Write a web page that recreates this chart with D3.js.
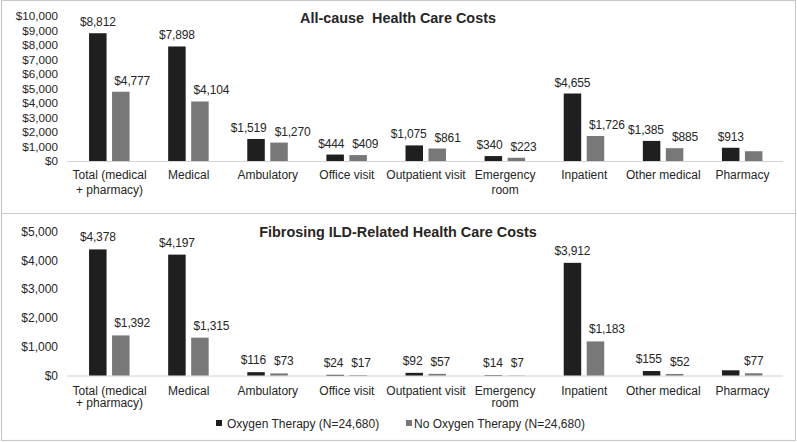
<!DOCTYPE html>
<html>
<head>
<meta charset="utf-8">
<script src="https://cdn.jsdelivr.net/npm/d3@7"></script>
<style>
  html, body { margin: 0; padding: 0; background: #fff; }
  svg { display: block; font-family: "Liberation Sans", Arial, sans-serif; }
</style>
</head>
<body>
<svg id="chart" width="797" height="442"></svg>
<script>
// ---------------- data ----------------
const categories = [
  "Total (medical\n+ pharmacy)", "Medical", "Ambulatory", "Office visit",
  "Outpatient visit", "Emergency\nroom", "Inpatient", "Other medical", "Pharmacy"
];
const seriesNames = ["Oxygen Therapy (N=24,680)", "No Oxygen Therapy (N=24,680)"];

const allCauseTitle = "All-cause  Health Care Costs";
const allCauseOxygen   = [8812, 7898, 1519, 444, 1075, 340, 4655, 1385, 913];
const allCauseNoOxygen = [4777, 4104, 1270, 409, 861, 223, 1726, 885, 673];
const allCauseTicks = [0, 1000, 2000, 3000, 4000, 5000, 6000, 7000, 8000, 9000, 10000];
const allCauseUnlabeled = [[1, "Pharmacy"]];   // [series index, category]

const ildTitle = "Fibrosing ILD-Related Health Care Costs";
const ildOxygen   = [4378, 4197, 116, 24, 92, 14, 3912, 155, 181];
const ildNoOxygen = [1392, 1315, 73, 17, 57, 7, 1183, 52, 77];
const ildTicks = [0, 1000, 2000, 3000, 4000, 5000];
const ildUnlabeled = [[0, "Pharmacy"]];

// ---------------- styles ----------------
const colors = ["#1f1f1f", "#787878"];
const textColor = "#262626";
const fmt = d => "$" + d3.format(",")(d);

const svg = d3.select("#chart");

// frame
svg.append("rect").attr("x", 1.5).attr("y", 0.5).attr("width", 794).attr("height", 440)
  .attr("fill", "none").attr("stroke", "#c9c9c9").attr("stroke-width", 1.2);
svg.append("line").attr("x1", 1.5).attr("x2", 795.5).attr("y1", 213.5).attr("y2", 213.5)
  .attr("stroke", "#c9c9c9").attr("stroke-width", 1.2);

const x0 = d3.scaleBand().domain(categories).range([70, 782]);
const x1 = d3.scaleBand().domain([0, 1]).range([-20.5, 20]).paddingInner(0.239);

// text measurement helper
const measurer = svg.append("text").attr("font-size", "12px").attr("letter-spacing", "-0.15px")
  .attr("visibility", "hidden");
function textW(s) { measurer.text(s); return measurer.node().getComputedTextLength(); }

function drawPanel(cfg) {
  const g = svg.append("g");
  const y = d3.scaleLinear().domain([0, cfg.max]).range([cfg.y0, cfg.yTop]);

  // title
  g.append("text").attr("x", 398).attr("y", cfg.titleY)
    .attr("text-anchor", "middle").attr("font-weight", "bold")
    .attr("font-size", "14.4px").attr("fill", textColor)
    .style("white-space", "pre")
    .text(cfg.title);

  // y axis
  const ax = g.append("g").attr("transform", `translate(60,0)`)
    .call(d3.axisLeft(y).tickValues(cfg.ticks).tickFormat(fmt).tickSize(0).tickPadding(2));
  ax.select(".domain").remove();
  ax.selectAll("text").attr("font-size", cfg.tickFont).attr("fill", textColor)
    .attr("font-family", "Liberation Sans, Arial, sans-serif");

  // baseline
  g.append("line").attr("x1", 67).attr("x2", 783)
    .attr("y1", y(0) + 0.5).attr("y2", y(0) + 0.5)
    .attr("stroke", "#d4d4d4").attr("stroke-width", 1.2);

  const series = [cfg.oxygen, cfg.noOxygen];
  const rows = [];
  series.forEach((vals, s) => vals.forEach((v, i) => rows.push({ s, cat: categories[i], v })));

  g.selectAll("rect.bar").data(rows).join("rect").attr("class", "bar")
    .attr("x", d => x0(d.cat) + x0.bandwidth() / 2 + x1(d.s))
    .attr("width", x1.bandwidth())
    .attr("y", d => y(d.v))
    .attr("height", d => y(0) - y(d.v))
    .attr("fill", d => colors[d.s]);

  // value labels with simple collision avoidance between the pair of a category
  const hidden = new Set(cfg.unlabeled.map(u => u[0] + "|" + u[1]));
  const labels = rows.filter(d => !hidden.has(d.s + "|" + d.cat)).map(d => ({
    ...d,
    text: fmt(d.v),
    w: textW(fmt(d.v)),
    cx: x0(d.cat) + x0.bandwidth() / 2 + x1(d.s) + x1.bandwidth() / 2,
    by: y(d.v) - cfg.labelGap
  }));
  const minGap = 8;
  categories.forEach(c => {
    const a = labels.find(l => l.cat === c && l.s === 0);
    const b = labels.find(l => l.cat === c && l.s === 1);
    if (!a || !b) return;
    const need = (a.w / 2 + b.w / 2 + minGap) - (b.cx - a.cx);
    if (need <= 0) return;
    if (Math.abs(a.by - b.by) < 14) {
      a.cx -= need * 0.35; b.cx += need * 0.65;
    } else {
      b.cx += need * 0.55;
    }
  });
  g.selectAll("text.val").data(labels).join("text")
    .attr("class", "val")
    .attr("x", d => d.cx)
    .attr("y", d => d.by)
    .attr("text-anchor", "middle").attr("font-size", "12px")
    .attr("letter-spacing", "-0.15px").attr("fill", textColor)
    .text(d => d.text);

  // category labels
  const cl = g.selectAll("text.cat").data(categories).join("text").attr("class", "cat")
    .attr("x", d => x0(d) + x0.bandwidth() / 2)
    .attr("y", cfg.catY)
    .attr("text-anchor", "middle").attr("font-size", "12px").attr("fill", textColor);
  cl.each(function (d) {
    const lines = d.split("\n");
    d3.select(this).selectAll("tspan").data(lines).join("tspan")
      .attr("x", x0(d) + x0.bandwidth() / 2)
      .attr("dy", (l, j) => j === 0 ? 0 : cfg.lineH)
      .text(l => l);
  });
}

drawPanel({
  title: allCauseTitle, titleY: 23, oxygen: allCauseOxygen, noOxygen: allCauseNoOxygen,
  ticks: allCauseTicks, max: 10000, y0: 161, yTop: 16, tickFont: "11.7px",
  unlabeled: allCauseUnlabeled, labelGap: 7, catY: 179, lineH: 14.5
});

drawPanel({
  title: ildTitle, titleY: 237, oxygen: ildOxygen, noOxygen: ildNoOxygen,
  ticks: ildTicks, max: 5000, y0: 375.5, yTop: 231.5, tickFont: "12px",
  unlabeled: ildUnlabeled, labelGap: 8, catY: 394.5, lineH: 12.8
});
measurer.remove();

// legend
const legX = [216, 406];
const leg = svg.append("g").selectAll("g").data(seriesNames).join("g")
  .attr("transform", (d, i) => `translate(${legX[i]},428)`);
leg.append("rect").attr("x", 0).attr("y", -8).attr("width", 6).attr("height", 6)
  .attr("fill", (d, i) => colors[i]);
leg.append("text").attr("x", (d, i) => i === 0 ? 11 : 8).attr("y", 0)
  .attr("font-size", "12px").attr("fill", textColor).text(d => d);
</script>
</body>
</html>
